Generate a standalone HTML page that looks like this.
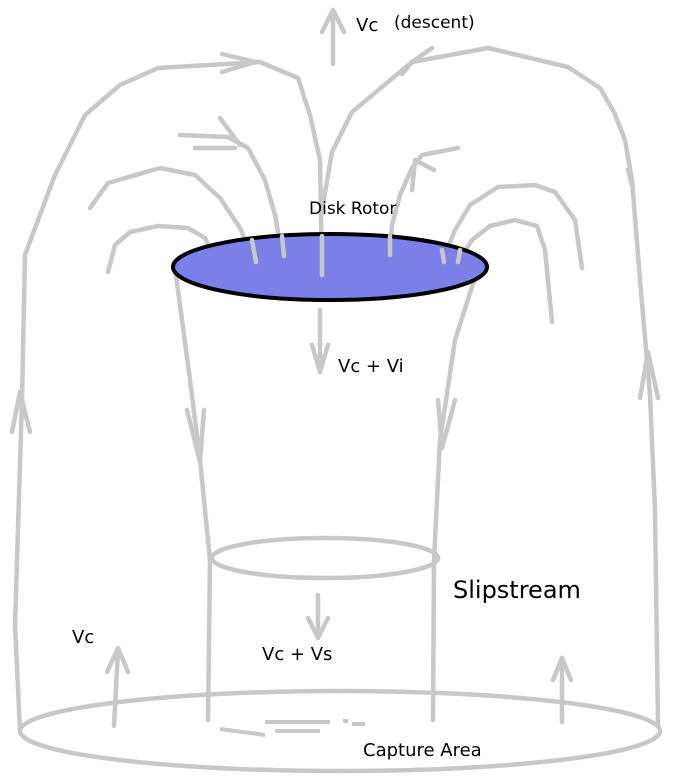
<!DOCTYPE html>
<html><head><meta charset="utf-8"><style>
html,body{margin:0;padding:0;background:#fff;width:678px;height:777px;overflow:hidden}
svg{display:block}
text{font-family:"DejaVu Sans","Liberation Sans",sans-serif;fill:#000}
</style></head><body>
<svg width="678" height="777" viewBox="0 0 678 777" xmlns="http://www.w3.org/2000/svg">
<g fill="none" stroke="#c8c8c8" stroke-width="4.5" stroke-linecap="round" stroke-linejoin="round">
<polyline points="20,730 15,625 22,400 25,255 55,175 85,115 120,85 158,68 260,62 298,78 310,115 320,160 322,275"/>
<polyline points="658,725 655,510 650,395 640,280 632,180 625,140 614,112 600,88 568,67 488,48 412,62 352,112 332,152 322,210"/>
<polyline points="222,54 255,62 222,72"/>
<polyline points="402,74 412,62 432,48"/>
<polyline points="12,432 20,392 30,432"/>
<polyline points="640,398 648,352 658,398"/>
<polyline points="632,185 628,170"/>
<line x1="333" y1="64" x2="333" y2="10"/>
<polyline points="322,32 333,10 344,32"/>
<polyline points="90,208 108,183 160,168 195,175 220,198 240,228 255,262"/>
<polyline points="108,272 115,245 130,232 158,226 188,228 205,238 213,255"/>
<polyline points="180,135 228,137 248,148 265,180 275,215 282,255"/>
<polyline points="195,148 235,148"/>
<polyline points="220,118 240,145"/>
<polyline points="442,262 455,230 470,205 498,187 535,185 555,192 575,220 582,268"/>
<polyline points="458,262 472,240 490,226 515,220 537,226 545,250 552,322"/>
<polyline points="390,255 392,225 400,195 412,168 422,155 458,148"/>
<polyline points="412,190 415,160 434,170"/>
<polyline points="175,268 190,380 200,460 210,560 208,720"/>
<polyline points="478,268 455,340 440,440 434,560 433,720"/>
<polyline points="187,410 200,462 204,410"/>
<polyline points="438,400 442,448 455,400"/>
<line x1="320" y1="310" x2="320" y2="372"/>
<polyline points="312,345 320,372 328,345"/>
<ellipse cx="325" cy="558" rx="113" ry="20"/>
<line x1="318" y1="595" x2="318" y2="638"/>
<polyline points="308,618 318,638 328,618"/>
<ellipse cx="340" cy="731" rx="320" ry="40"/>
<polyline points="114,726 118,650"/>
<polyline points="107,672 118,648 128,672"/>
<polyline points="562,722 562,658"/>
<polyline points="553,680 562,658 571,680"/>
</g>
<g stroke="#fff" stroke-width="5" fill="none">
<line x1="210" y1="727" x2="420" y2="727"/>
</g>
<g stroke="#c8c8c8" stroke-width="4" fill="none">
<line x1="220" y1="729" x2="265" y2="735"/>
<line x1="265" y1="722" x2="330" y2="722"/>
<line x1="275" y1="731" x2="320" y2="731"/>
<line x1="343" y1="721" x2="348" y2="721"/>
<line x1="352" y1="724" x2="365" y2="724"/>
</g>
<ellipse cx="330" cy="267" rx="157" ry="33" fill="#7b80e8" stroke="#000" stroke-width="4"/>
<g fill="none" stroke="#c8c8c8" stroke-width="4.5" stroke-linecap="round">
<line x1="322" y1="236" x2="322" y2="275"/>
<line x1="282" y1="236" x2="284" y2="256"/>
<line x1="252" y1="240" x2="256" y2="262"/>
<line x1="390" y1="236" x2="390" y2="255"/>
<line x1="442" y1="250" x2="444" y2="262"/>
<line x1="460" y1="250" x2="458" y2="262"/>
</g>
<text x="356" y="31" font-size="18">Vc</text>
<text x="394" y="28" font-size="17">(descent)</text>
<text x="309" y="214" font-size="17">Disk Rotor</text>
<text x="338" y="372" font-size="18">Vc + Vi</text>
<text x="453" y="598" font-size="24">Slipstream</text>
<text x="72" y="643" font-size="18">Vc</text>
<text x="262" y="660" font-size="18">Vc + Vs</text>
<text x="363" y="756" font-size="18">Capture Area</text>
</svg>
</body></html>
